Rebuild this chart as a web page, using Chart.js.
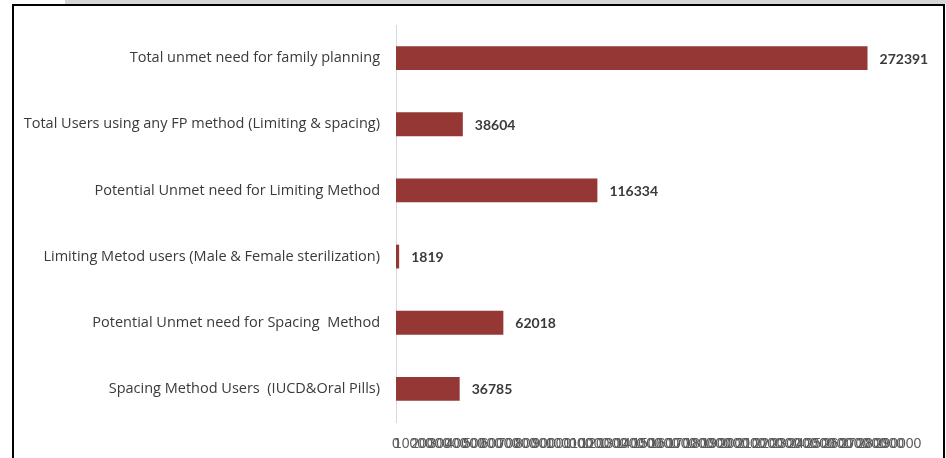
<!DOCTYPE html>
<html>
<head>
<meta charset="utf-8">
<script src="https://cdn.jsdelivr.net/npm/chart.js@4.4.1/dist/chart.umd.min.js"></script>
<style>
  html, body { margin: 0; padding: 0; background: #fff; overflow: hidden; }
  #strip { position: absolute; left: 65px; top: 0; width: 881px; height: 4px; background: #d6d6d6; }
  #frame { position: absolute; left: 12px; top: 4px; width: 929px; height: 470px;
           border: 2px solid #000; border-bottom: none; }
  #wrap { position: absolute; left: 0; top: 0; width: 946px; height: 458px; }
</style>
</head>
<body>
<div id="strip"></div>
<div id="frame"></div>
<div id="wrap"><canvas id="chart"></canvas></div>
<script>
// categories and values
const categories = [
    'Total unmet need for family planning',
    'Total Users using any FP method (Limiting & spacing)',
    'Potential Unmet need for Limiting Method',
    'Limiting Metod users (Male & Female sterilization)',
    'Potential Unmet need for Spacing  Method',
    'Spacing Method Users  (IUCD&Oral Pills)'
];
const values = [272391, 38604, 116334, 1819, 62018, 36785];

// x axis runs 0..290000 with a label at every 10000 (they overlap in the original)
const xMax = 290000;
const xStep = 10000;

const barColor = '#953735';

// draw value labels to the right of each bar
const valueLabels = {
    id: 'valueLabels',
    afterDatasetsDraw(chart) {
        const ctx = chart.ctx;
        const meta = chart.getDatasetMeta(0);
        ctx.save();
        ctx.font = "bold 14px Lato, sans-serif";
        ctx.fillStyle = '#3a3a3a';
        ctx.textAlign = 'left';
        ctx.textBaseline = 'middle';
        meta.data.forEach((bar, i) => {
            ctx.fillText(String(values[i]), bar.x + 12, bar.y + 1);
        });
        ctx.restore();
    }
};

new Chart(document.getElementById('chart').getContext('2d'), {
    type: 'bar',
    data: {
        labels: categories,
        datasets: [{
            data: values,
            backgroundColor: barColor,
            borderWidth: 0,
            categoryPercentage: 1,
            barPercentage: 0.36
        }]
    },
    options: {
        indexAxis: 'y',
        responsive: true,
        maintainAspectRatio: false,
        animation: false,
        layout: { padding: { left: 0, right: 48, top: 25, bottom: 0 } },
        plugins: {
            legend: { display: false },
            tooltip: { enabled: false }
        },
        scales: {
            y: {
                grid: { display: false, drawTicks: false },
                border: { display: true, color: '#d9d9d9', width: 1 },
                ticks: {
                    color: '#3a3a3a',
                    font: { family: "'Open Sans', sans-serif", size: 14.5 },
                    padding: 16
                },
                afterFit(scale) { scale.width = 396; }
            },
            x: {
                min: 0,
                max: xMax,
                grid: { display: false, drawTicks: false },
                border: { display: false },
                ticks: {
                    stepSize: xStep,
                    autoSkip: false,
                    maxRotation: 0,
                    minRotation: 0,
                    color: '#595959',
                    font: { family: "'Liberation Sans', Arial, sans-serif", size: 14 },
                    padding: 14,
                    callback: v => String(v)
                },
                afterFit(scale) { scale.height = 36; }
            }
        }
    },
    plugins: [valueLabels]
});
</script>
</body>
</html>
